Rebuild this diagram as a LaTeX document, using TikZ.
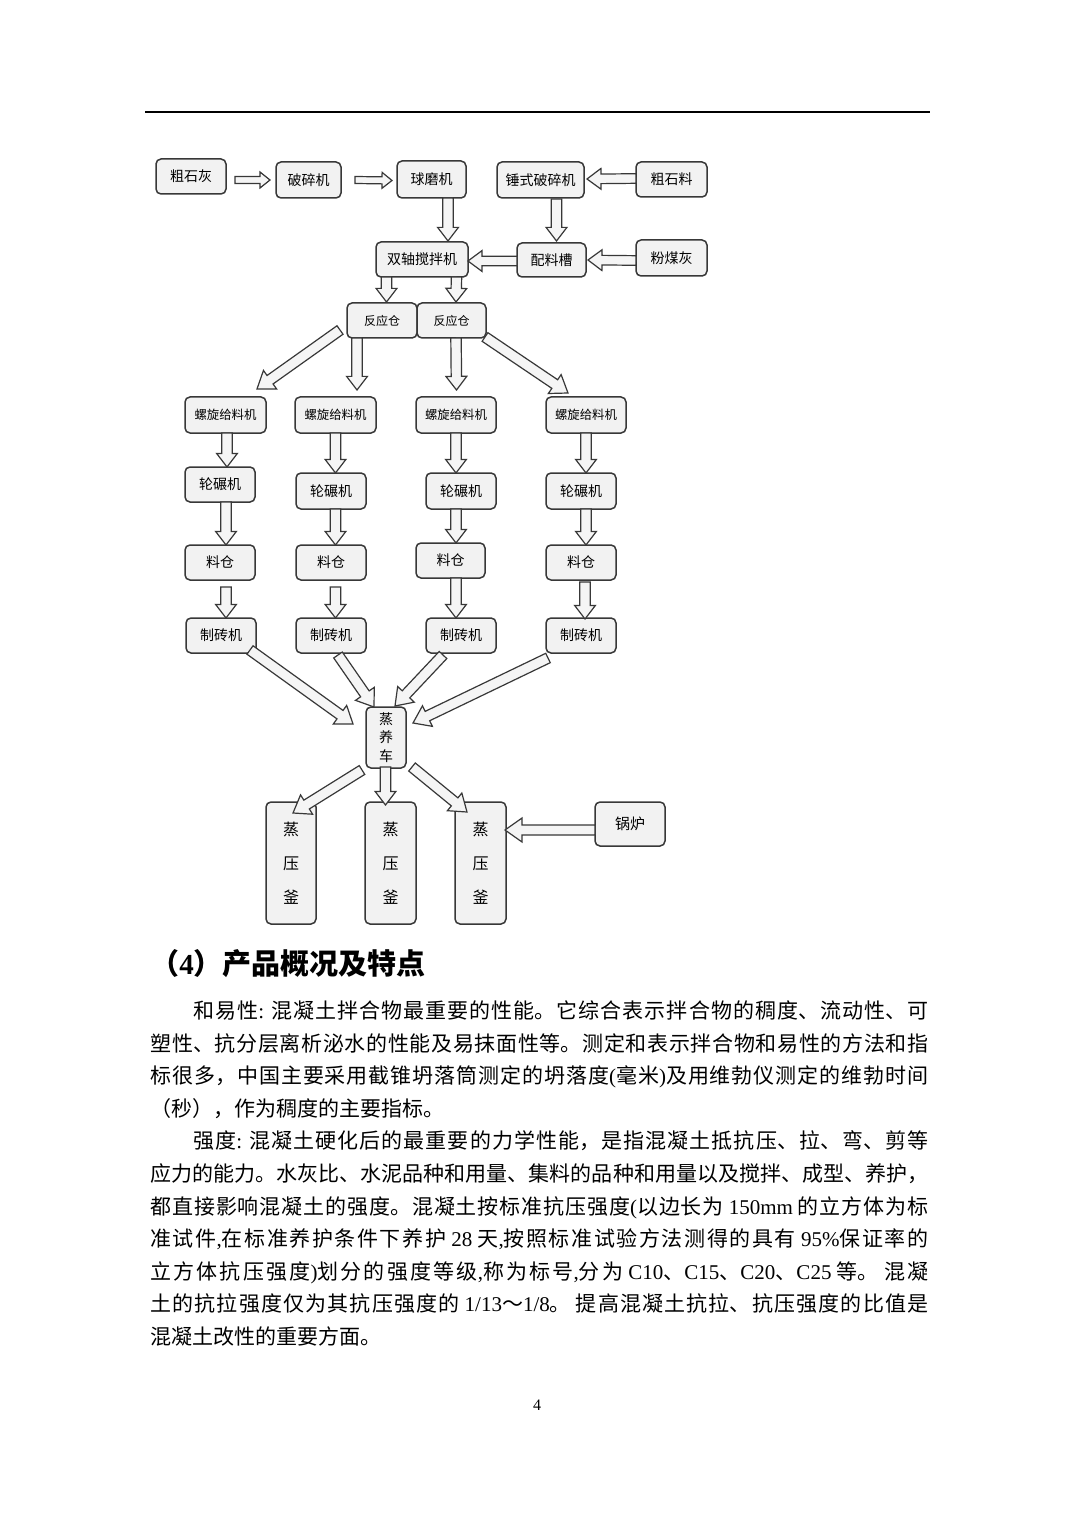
\documentclass[tikz,border=0pt]{standalone}
\usepackage{fontspec}
\setmainfont{Liberation Serif}
\newfontfamily\cjk{Noto Sans CJK SC}
\newfontfamily\latf{Liberation Serif}
\usetikzlibrary{calc}
\definecolor{boxfill}{HTML}{F2F2F2}
\definecolor{boxline}{HTML}{383838}
\definecolor{arrfill}{HTML}{F5F5F5}
\definecolor{arrline}{HTML}{383838}
\tikzset{
  box/.style={draw=boxline, fill=boxfill, rounded corners=2.5pt, line width=0.75pt,
    inner sep=0pt, outer sep=0pt, align=center, font=\cjk\fontsize{7pt}{8pt}\selectfont},
  smalltxt/.style={font=\cjk\fontsize{6pt}{7pt}\selectfont},
  tinytxt/.style={font=\cjk\fontsize{6.2pt}{7pt}\selectfont},
  blk/.style={draw=arrline, fill=arrfill, line width=0.6pt, line join=miter},
  body/.style={inner sep=0pt, font=\cjk\fontsize{10.5pt}{13pt}\selectfont},
}
% box by corners (pixel coordinates of the page, y downwards)
\newcommand\bx[7][]{\node[box,#1, minimum width={(#5-#3)*0.5pt}, minimum height={(#6-#4)*0.5pt}] (#2) at ({(#3+#5)/2},{(#4+#6)/2}) {#7};}
% hollow block arrow
\newcommand\blkarrow[5]{%
  \coordinate (baA) at (#1);
  \coordinate (baB) at (#2);
  \coordinate (baC) at ($(baB)!#5!(baA)$);
  \draw[blk] ($(baA)!#3!90:(baB)$) -- ($(baC)!#3!90:(baB)$) -- ($(baC)!#4!90:(baB)$) -- (baB)
     -- ($(baC)!#4!-90:(baB)$) -- ($(baC)!#3!-90:(baB)$) -- ($(baA)!#3!-90:(baB)$) -- cycle;}
\newcommand\arS[2]{\blkarrow{#1}{#2}{1.75pt}{4pt}{5pt}}
\newcommand\arV[2]{\blkarrow{#1}{#2}{2.6pt}{5.2pt}{6.8pt}}
\newcommand\arD[2]{\blkarrow{#1}{#2}{2.6pt}{5.7pt}{8pt}}
\newcommand\arH[2]{\blkarrow{#1}{#2}{2.4pt}{5.2pt}{7pt}}
% justified text line
\newcommand\jline[5]{\node[body, anchor=base west] (#1) at (#2,#3) {\parbox[b]{#4}{\cjk\fontsize{10.5pt}{13pt}\selectfont\XeTeXlinebreaklocale "zh"\XeTeXlinebreakskip=0pt plus 4pt\relax\parindent=0pt\parfillskip=0pt\relax #5}};}
\begin{document}
\begin{tikzpicture}[x=0.5pt,y=-0.5pt]
\fill[white] (0,0) rectangle (1075,1518);
\useasboundingbox (0,0) rectangle (1075,1518);
% header rule
\coordinate (hl) at (145,112);
\coordinate (hr) at (930,112);
\draw[line width=0.75pt] (hl) -- (hr);

% ---------- boxes ----------
\bx{csh}{156}{159}{226}{194}{粗石灰}
\bx{psj}{276}{162}{341}{198}{破碎机}
\bx{qmj}{397}{161}{466}{198}{球磨机}
\bx{cspsj}{497}{162}{584}{198}{锤式破碎机}
\bx{csl}{636}{162}{707}{197}{粗石料}
\bx{sz}{376}{242}{468}{277}{双轴搅拌机}
\bx{plc}{517}{243}{586}{277}{配料槽}
\bx{fmh}{636}{240}{707}{276}{粉煤灰}
\bx[smalltxt]{fyc1}{347}{303}{417}{338}{反应仓}
\bx[smalltxt]{fyc2}{417}{303}{486}{338}{反应仓}

\bx[tinytxt]{lx1}{185}{397}{266}{433}{螺旋给料机}
\bx[tinytxt]{lx2}{295}{397}{376}{433}{螺旋给料机}
\bx[tinytxt]{lx3}{416}{397}{496}{433}{螺旋给料机}
\bx[tinytxt]{lx4}{546}{397}{626}{433}{螺旋给料机}

\bx{lz1}{185}{467}{255}{502}{轮碾机}
\bx{lz2}{296}{473}{366}{509}{轮碾机}
\bx{lz3}{426}{473}{496}{509}{轮碾机}
\bx{lz4}{546}{473}{616}{509}{轮碾机}

\bx{lc1}{185}{545}{255}{580}{料仓}
\bx{lc2}{296}{545}{366}{580}{料仓}
\bx{lc3}{416}{543}{485}{578}{料仓}
\bx{lc4}{546}{545}{616}{580}{料仓}

\bx{zz1}{186}{618}{256}{653}{制砖机}
\bx{zz2}{296}{618}{366}{653}{制砖机}
\bx{zz3}{426}{618}{496}{653}{制砖机}
\bx{zz4}{546}{618}{616}{653}{制砖机}

\bx[font=\cjk\fontsize{7pt}{9.4pt}\selectfont]{zyc}{366}{707}{406}{768}{蒸\\养\\车}

\bx[font=\cjk\fontsize{8pt}{17pt}\selectfont]{zyf1}{266}{802}{316}{924}{蒸\\压\\釜}
\bx[font=\cjk\fontsize{8pt}{17pt}\selectfont]{zyf2}{365}{802}{416}{924}{蒸\\压\\釜}
\bx[font=\cjk\fontsize{8pt}{17pt}\selectfont]{zyf3}{455}{802}{506}{924}{蒸\\压\\釜}
\bx[font=\cjk\fontsize{7.5pt}{8pt}\selectfont]{gl}{595}{802}{665}{846}{锅炉}

% ---------- arrows ----------
\arS{$(csh.east)+(9,3.5)$}{$(psj.west)+(-6,0)$}
\arS{$(psj.east)+(14,0)$}{$(qmj.west)+(-5,1)$}
\arH{$(csl.west)+(0,-1)$}{$(cspsj.east)+(3,-1)$}
\arV{$(qmj.south)+(16.5,0)$}{$(sz.north)+(26,-1)$}
\arV{$(cspsj.south)+(16,1)$}{$(plc.north)+(5,-2)$}
\arH{$(plc.west)+(0,1)$}{$(sz.east)+(0,1.5)$}
\arH{$(fmh.west)+(0,2.5)$}{$(plc.east)+(2,0)$}
\arV{$(sz.south)+(-35.5,0)$}{$(fyc1.north)+(4.5,-1)$}
\arV{$(sz.south)+(34.5,0)$}{$(fyc2.north)+(4.5,-1)$}

\arD{$(fyc1.south west)+(-7,-8)$}{$(lx1.north)+(31.5,-8)$}
\arV{$(fyc1.south)+(-25,0)$}{$(lx2.north)+(21.5,-7)$}
\arV{$(fyc2.south)+(4.5,0)$}{$(lx3.north)+(0.5,-7)$}
\arD{$(fyc2.south east)+(-1,-1)$}{$(lx4.north)+(-18,-4)$}

\arV{$(lx1.south)+(1.5,0)$}{$(lz1.north)+(7,0)$}
\arV{$(lx2.south)+(0,0)$}{$(lz2.north)+(4.5,0)$}
\arV{$(lx3.south)+(0,0)$}{$(lz3.north)+(-5,0)$}
\arV{$(lx4.south)+(0,0)$}{$(lz4.north)+(5,0)$}

\arV{$(lz1.south)+(6,0)$}{$(lc1.north)+(6,0)$}
\arV{$(lz2.south)+(4.5,0)$}{$(lc2.north)+(4.5,0)$}
\arV{$(lz3.south)+(-5,0)$}{$(lc3.north)+(5.5,0)$}
\arV{$(lz4.south)+(5,0)$}{$(lc4.north)+(5,0)$}

\arV{$(lc1.south)+(6,7)$}{$(zz1.north)+(5,0)$}
\arV{$(lc2.south)+(4.5,7)$}{$(zz2.north)+(4.5,0)$}
\arV{$(lc3.south)+(5.5,0)$}{$(zz3.north)+(-5,0)$}
\arV{$(lc4.south)+(4,2)$}{$(zz4.north)+(4,1)$}

\arD{$(zz1.south east)+(-6,-3)$}{$(zyc.west)+(-13,-13.5)$}
\arD{$(zz2.south)+(7,2)$}{$(zyc.north)+(-12,0)$}
\arD{$(zz3.south)+(-18,2)$}{$(zyc.north)+(9,-1)$}
\arD{$(zz4.south west)+(2,5)$}{$(zyc.east)+(7,-14.5)$}

\arD{$(zyc.south)+(-24,2)$}{$(zyf1.north)+(2,11)$}
\arV{$(zyc.south)+(-0.5,-1)$}{$(zyf2.north)+(-5,3)$}
\arD{$(zyc.south east)+(6,-1)$}{$(zyf3.north)+(-13.5,10)$}
\blkarrow{$(gl.west)+(0,6)$}{$(zyf3.east)+(-1,-33)$}{2.5pt}{6pt}{8.5pt}

% ---------- heading and text ----------
\node[inner sep=0pt, anchor=base west, font=\cjk\bfseries\fontsize{14.5pt}{16pt}\selectfont] (hd) at (150,974) {（{\latf\bfseries 4}）产品概况及特点};

\jline{t1}{193}{1018}{367.5pt}{和易性{\latf :} 混凝土拌合物最重要的性能。它综合表示拌合物的稠度、流动性、可}
\jline{t2}{150}{1051}{389pt}{塑性、抗分层离析泌水的性能及易抹面性等。测定和表示拌合物和易性的方法和指}
\jline{t3}{150}{1083}{389pt}{标很多，中国主要采用截锥坍落筒测定的坍落度{\latf (}毫米{\latf )}及用维勃仪测定的维勃时间}
\node[body, anchor=base west] (t4) at (150,1116) {（秒），作为稠度的主要指标。};
\jline{t5}{193}{1148}{367.5pt}{强度{\latf :} 混凝土硬化后的最重要的力学性能，是指混凝土抵抗压、拉、弯、剪等}
\jline{t6}{150}{1181}{389pt}{应力的能力。水灰比、水泥品种和用量、集料的品种和用量以及搅拌、成型、养护，}
\jline{t7}{150}{1214}{389pt}{都直接影响混凝土的强度。混凝土按标准抗压强度{\latf (}以边长为 {\latf 150mm} 的立方体为标}
\jline{t8}{150}{1246}{389pt}{准试件{\latf ,}在标准养护条件下养护 {\latf 28} 天{\latf ,}按照标准试验方法测得的具有 {\latf 95\%}保证率的}
\jline{t9}{150}{1279}{389pt}{立方体抗压强度{\latf )}划分的强度等级{\latf ,}称为标号{\latf ,}分为 {\latf C10}、{\latf C15}、{\latf C20}、{\latf C25} 等。 混凝}
\jline{t10}{150}{1311}{389pt}{土的抗拉强度仅为其抗压强度的 {\latf 1/13}～{\latf 1/8}。 提高混凝土抗拉、抗压强度的比值是}
\node[body, anchor=base west] (t11) at (150,1344) {混凝土改性的重要方面。};

\node[inner sep=0pt, font=\latf\fontsize{8pt}{9pt}\selectfont] (pg) at (537,1405) {4};
\end{tikzpicture}
\end{document}
